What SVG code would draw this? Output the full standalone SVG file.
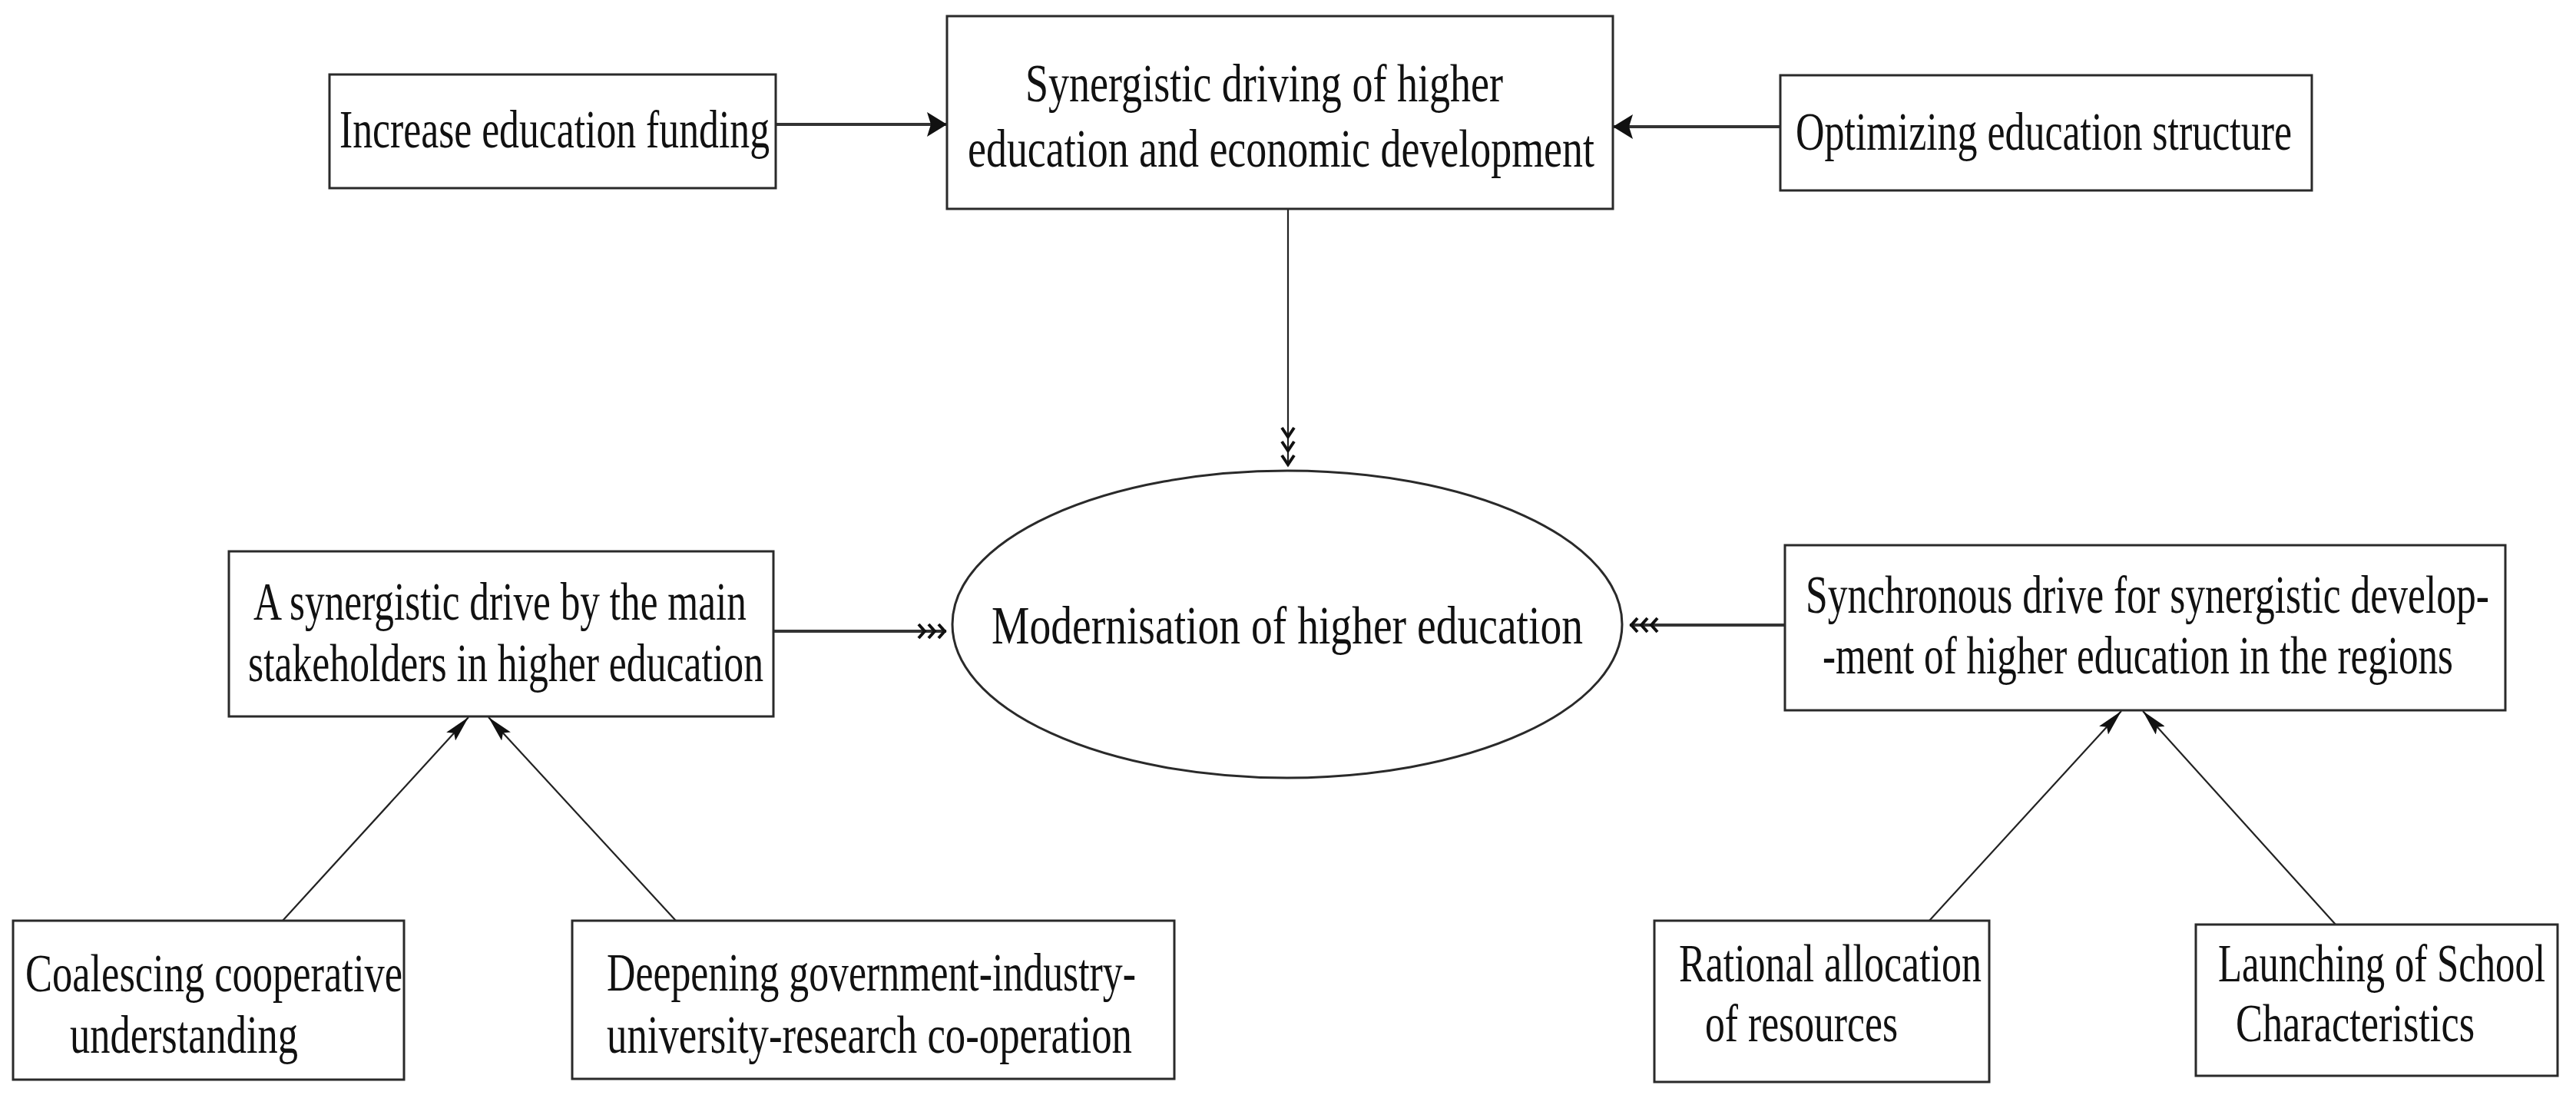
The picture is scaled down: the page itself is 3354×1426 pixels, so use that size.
<svg xmlns="http://www.w3.org/2000/svg" width="3354" height="1426" viewBox="0 0 3354 1426">
<style>
.box{fill:#fff;stroke:#2a2a2a;stroke-width:3}
.ell{fill:#fff;stroke:#2a2a2a;stroke-width:3}
.t{font-family:"Liberation Serif","Times New Roman",serif;font-size:70px;fill:#111}
.ln{stroke:#333;stroke-width:4;fill:none}
.dl{stroke:#222;stroke-width:2.2;fill:none}
</style>
<defs>
<marker id="arr" markerUnits="userSpaceOnUse" viewBox="0 0 26 32" refX="26" refY="16" markerWidth="26" markerHeight="32" orient="auto">
<path d="M0,0 L26,16 L0,32 L5,16 z" fill="#111"/>
</marker>
<marker id="arrs" markerUnits="userSpaceOnUse" viewBox="0 0 34 16" refX="34" refY="8" markerWidth="34" markerHeight="16" orient="auto">
<path d="M0,0 L34,8 L0,16 L6,8 z" fill="#111"/>
</marker>
<marker id="chev" markerUnits="userSpaceOnUse" viewBox="-2 -12 40 24" refX="36" refY="0" markerWidth="40" markerHeight="24" orient="auto">
<path d="M0,-9 L8,0 L0,9 M13,-9 L21,0 L13,9 M26,-9 L34,0 L26,9" stroke="#111" stroke-width="4" fill="none"/>
</marker>
<marker id="chevL" markerUnits="userSpaceOnUse" viewBox="-2 -12 54 24" refX="50" refY="0" markerWidth="54" markerHeight="24" orient="auto">
<path d="M0,-8 L12,0 L0,8 M18,-8 L30,0 L18,8 M36,-8 L48,0 L36,8" stroke="#111" stroke-width="4" fill="none"/>
</marker>
</defs>
<rect width="3354" height="1426" fill="#fff"/>

<g id="connectors">
<line class="ln" x1="1010" y1="162" x2="1233" y2="162" marker-end="url(#arr)"/>
<line class="ln" x1="2318" y1="165" x2="2100" y2="165" marker-end="url(#arr)"/>
<line class="dl" x1="1677" y1="272" x2="1677" y2="607" marker-end="url(#chevL)"/>
<line class="ln" x1="1007" y1="822" x2="1232" y2="822" marker-end="url(#chev)"/>
<line class="ln" x1="2324" y1="814" x2="2122" y2="814" marker-end="url(#chev)"/>
<line class="dl" x1="368" y1="1199" x2="610" y2="934" marker-end="url(#arrs)"/>
<line class="dl" x1="880" y1="1199" x2="636" y2="934" marker-end="url(#arrs)"/>
<line class="dl" x1="2512" y1="1199" x2="2762" y2="926" marker-end="url(#arrs)"/>
<line class="dl" x1="3041" y1="1204" x2="2790" y2="926" marker-end="url(#arrs)"/>
</g>

<g id="n-funding">
<rect class="box" x="429" y="97" width="581" height="148"/>
<text class="t" x="442" y="192" textLength="560" lengthAdjust="spacingAndGlyphs">Increase education funding</text>
</g>

<g id="n-synergy">
<rect class="box" x="1233" y="21" width="867" height="251"/>
<text class="t" x="1335" y="132" textLength="622" lengthAdjust="spacingAndGlyphs">Synergistic driving of higher</text>
<text class="t" x="1260" y="217" textLength="816" lengthAdjust="spacingAndGlyphs">education and economic development</text>
</g>

<g id="n-optimizing">
<rect class="box" x="2318" y="98" width="692" height="150"/>
<text class="t" x="2338" y="195" textLength="646" lengthAdjust="spacingAndGlyphs">Optimizing education structure</text>
</g>

<g id="n-modernisation">
<ellipse class="ell" cx="1676" cy="813" rx="436" ry="200"/>
<text class="t" x="1291" y="838" textLength="770" lengthAdjust="spacingAndGlyphs">Modernisation of higher education</text>
</g>

<g id="n-stakeholders">
<rect class="box" x="298" y="718" width="709" height="215"/>
<text class="t" x="330" y="807" textLength="642" lengthAdjust="spacingAndGlyphs">A synergistic drive by the main</text>
<text class="t" x="323" y="887" textLength="671" lengthAdjust="spacingAndGlyphs">stakeholders in higher education</text>
</g>

<g id="n-regions">
<rect class="box" x="2324" y="710" width="938" height="215"/>
<text class="t" x="2351" y="798" textLength="890" lengthAdjust="spacingAndGlyphs">Synchronous drive for synergistic develop-</text>
<text class="t" x="2373" y="877" textLength="821" lengthAdjust="spacingAndGlyphs">-ment of higher education in the regions</text>
</g>

<g id="n-coalescing">
<rect class="box" x="17" y="1199" width="509" height="207"/>
<text class="t" x="33" y="1291" textLength="491" lengthAdjust="spacingAndGlyphs">Coalescing cooperative</text>
<text class="t" x="91" y="1371" textLength="297" lengthAdjust="spacingAndGlyphs">understanding</text>
</g>

<g id="n-deepening">
<rect class="box" x="745" y="1199" width="784" height="206"/>
<text class="t" x="790" y="1290" textLength="689" lengthAdjust="spacingAndGlyphs">Deepening government-industry-</text>
<text class="t" x="790" y="1371" textLength="684" lengthAdjust="spacingAndGlyphs">university-research co-operation</text>
</g>

<g id="n-rational">
<rect class="box" x="2154" y="1199" width="436" height="210"/>
<text class="t" x="2186" y="1278" textLength="394" lengthAdjust="spacingAndGlyphs">Rational allocation</text>
<text class="t" x="2220" y="1356" textLength="251" lengthAdjust="spacingAndGlyphs">of resources</text>
</g>

<g id="n-launching">
<rect class="box" x="2859" y="1204" width="471" height="197"/>
<text class="t" x="2888" y="1278" textLength="426" lengthAdjust="spacingAndGlyphs">Launching of School</text>
<text class="t" x="2911" y="1356" textLength="311" lengthAdjust="spacingAndGlyphs">Characteristics</text>
</g>
</svg>
